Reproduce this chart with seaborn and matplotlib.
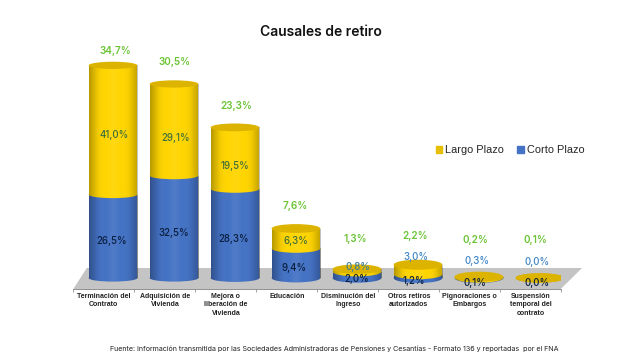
import matplotlib
matplotlib.use('Agg')
import matplotlib.pyplot as plt
import numpy as np
import pandas as pd
import seaborn as sns
from matplotlib.colors import LinearSegmentedColormap
from matplotlib.patches import Ellipse, Polygon

causales = ['Terminación del\nContrato', 'Adquisición de\nVivienda', 'Mejora o\nliberación de\nVivienda',
            'Educación', 'Disminución del\nIngreso', 'Otros retiros\nautorizados',
            'Pignoraciones o\nEmbargos', 'Suspensión\ntemporal del\ncontrato']
corto = [26.5, 32.5, 28.3, 9.4, 2.0, 1.2, 0.1, 0.0]
largo = [41.0, 29.1, 19.5, 6.3, 0.8, 3.0, 0.3, 0.0]
total = [34.7, 30.5, 23.3, 7.6, 1.3, 2.2, 0.2, 0.1]

# label nudges in pixels, from the bar top / segment middle
total_off = [(2, 14), (1, 22), (1, 21), (-1, 23), (-2, 30), (-3, 29), (-4, 37), (-5, 38)]
largo_off = [(1, -5), (2, -8), (0, -8), (0, -2.5), (1, 3), (-2, 12.5), (-2, 16), (-3, 16)]
corto_off = [(-1, -5), (0, -6), (-1, -6), (-2, -5), (0, -4), (-4, -5), (-4, -5), (-3, -5)]
largo_txt = ['#3f6f3c'] * 4 + ['#3a7f9e', '#3f86c6', '#3f86c6', '#3f86c6']

YELLOW = '#ffd500'
BLUE = '#4472c4'
CAP = '#dcb400'
CAP_H = [2.3, 2.3, 2.5, 2.8, 3.0, 3.2, 3.2, 3.0]
BAR_W = 0.8

sns.set_theme(style='white')
plt.rcParams['font.family'] = ['Inter', 'DejaVu Sans']

df = pd.DataFrame({'causal': causales, 'corto': corto, 'largo': largo})
df['suma'] = df['corto'] + df['largo']

fig = plt.figure(figsize=(6.43, 3.61), dpi=100)
ax = fig.add_axes([73.35 / 643, (361 - 289) / 361, 488 / 643, 249 / 361])

ax.add_patch(Polygon([(-0.65, -3.5), (-0.43, 3.17), (7.69, 3.17), (7.34, -3.5)], closed=True,
                     facecolor='#c4c4c4', edgecolor='none', clip_on=False, zorder=0))

sns.barplot(data=df, x='causal', y='suma', color=YELLOW, saturation=1, width=BAR_W, linewidth=0, ax=ax, zorder=2)
sns.barplot(data=df, x='causal', y='corto', color=BLUE, saturation=1, width=BAR_W, linewidth=0, ax=ax, zorder=2)

# round shading that sits over every cylinder part
shade = LinearSegmentedColormap.from_list(
    'cyl', [(0, 0, 0, 0.28), (0, 0, 0, 0.06), (1, 1, 1, 0.0), (1, 1, 1, 0.07),
            (1, 1, 1, 0.0), (0, 0, 0, 0.05), (0, 0, 0, 0.24)])
grad = np.linspace(0, 1, 64).reshape(1, -1)


def shaded(patch, i, y0, y1, z):
    patch.set_zorder(z)
    im = ax.imshow(grad, cmap=shade, aspect='auto', zorder=z + 0.1,
                   extent=(i - BAR_W / 2, i + BAR_W / 2, y0, y1), interpolation='bilinear')
    im.set_clip_path(patch)


bars = [p for p in ax.patches if isinstance(p, matplotlib.patches.Rectangle)]
for i in range(len(causales)):
    low, up = corto[i], corto[i] + largo[i]
    h = CAP_H[i]
    shaded(bars[i], i, 0, up, 2)
    shaded(bars[i + len(causales)], i, 0, low, 3)
    base = ax.add_patch(Ellipse((i, 0), BAR_W, h, facecolor=BLUE if low else CAP, edgecolor='none'))
    shaded(base, i, -h, h, 2.5)
    if up > 0:
        mid = ax.add_patch(Ellipse((i, low), BAR_W, h, facecolor=YELLOW, edgecolor='none'))
        shaded(mid, i, low - h, low + h, 4)
    ax.add_patch(Ellipse((i, up), BAR_W, h, facecolor=CAP, edgecolor='none', zorder=5))

    ax.annotate(f'{total[i]:.1f}%'.replace('.', ','), (i, up), xytext=total_off[i], textcoords='offset pixels',
                ha='center', va='center', color='#6cc436', fontsize=7.2, fontweight='semibold', zorder=6)
    ax.annotate(f'{largo[i]:.1f}%'.replace('.', ','), (i, low + largo[i] / 2), xytext=largo_off[i],
                textcoords='offset pixels', ha='center', va='center', color=largo_txt[i], fontsize=7,
                fontweight='medium', zorder=6)
    ax.annotate(f'{low:.1f}%'.replace('.', ','), (i, low / 2), xytext=corto_off[i],
                textcoords='offset pixels', ha='center', va='center', color='#0b1f3f', fontsize=7,
                fontweight='medium', zorder=6)

ax.set_xlim(-0.65, 7.35)
ax.set_ylim(-3.5, 75.55)
ax.set_xlabel('')
ax.set_ylabel('')
ax.set_yticks([])
ax.set_xticks(np.arange(8) - 0.15, causales, fontsize=5, fontweight='bold', family='Liberation Sans',
              color='#222222', linespacing=1.25)
ax.set_xticks(np.arange(9) - 0.65, minor=True)
ax.tick_params(axis='x', which='major', length=0, pad=3)
ax.tick_params(axis='x', which='minor', length=2, width=0.6, color='#909090', bottom=True)
ax.patch.set_alpha(0)
sns.despine(ax=ax, left=True)
ax.spines['bottom'].set_color('#909090')
ax.spines['bottom'].set_linewidth(0.7)

handles = [plt.Rectangle((0, 0), 1, 1, color='#e6c000'), plt.Rectangle((0, 0), 1, 1, color=BLUE)]
fig.legend(handles, ['Largo Plazo', 'Corto Plazo'], ncol=2, frameon=False, loc='center',
           bbox_to_anchor=(510 / 643, 1 - 150 / 361), prop={'family': 'Liberation Sans', 'size': 7.9},
           handlelength=0.6, handleheight=0.6, handletextpad=0.25, columnspacing=1.25)

fig.text(321 / 643, 1 - 32 / 361, 'Causales de retiro', ha='center', va='center', fontsize=10,
         fontweight='semibold', color='#111111')
fig.text(110 / 643, 1 - 349 / 361,
         'Fuente: Información transmitida por las Sociedades Administradoras de Pensiones y Cesantías - '
         'Formato 136 y reportadas  por el FNA', ha='left', va='center', fontsize=5.15, color='#222222')

fig.savefig('out.png', dpi=100, facecolor='white')
